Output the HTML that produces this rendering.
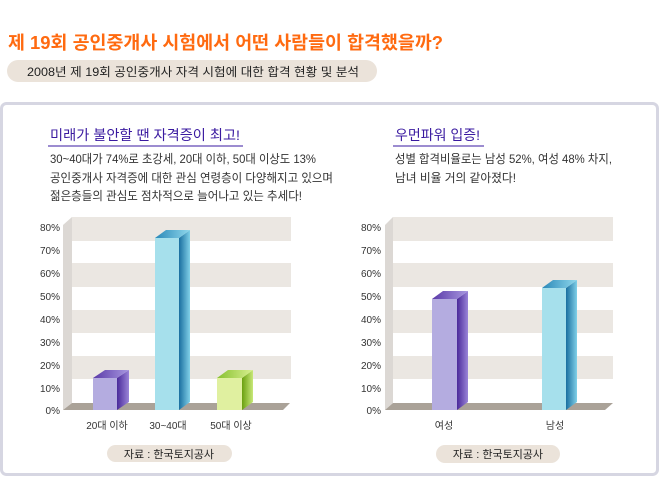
<!DOCTYPE html>
<html><head><meta charset="utf-8"><style>
body{margin:0;width:662px;height:484px;background:#fff;overflow:hidden;font-family:"Liberation Sans","Noto Sans CJK KR",sans-serif}
svg{position:absolute;left:0;top:0}
text{font-family:"Liberation Sans","Noto Sans CJK KR",sans-serif}
</style></head><body>
<svg width="662" height="484" viewBox="0 0 662 484">
<defs>
<linearGradient id="pS" x1="0" x2="1"><stop offset="0" stop-color="#4a2a9a"/><stop offset="1" stop-color="#9a84d8"/></linearGradient>
<linearGradient id="bS" x1="0" x2="1"><stop offset="0" stop-color="#1a6fa0"/><stop offset="1" stop-color="#80d0e8"/></linearGradient>
<linearGradient id="gS" x1="0" x2="1"><stop offset="0" stop-color="#6aa010"/><stop offset="1" stop-color="#c8e878"/></linearGradient>
<linearGradient id="pT" x1="0" x2="1"><stop offset="0" stop-color="#5a3aa8"/><stop offset="1" stop-color="#a898e0"/></linearGradient>
<linearGradient id="bT" x1="0" x2="1"><stop offset="0" stop-color="#2a88b8"/><stop offset="1" stop-color="#90d8ec"/></linearGradient>
<linearGradient id="gT" x1="0" x2="1"><stop offset="0" stop-color="#88c030"/><stop offset="1" stop-color="#d8f090"/></linearGradient>
</defs>
<text x="8" y="49" font-size="18" fill="#ff6a10" font-weight="bold" textLength="435" lengthAdjust="spacingAndGlyphs">제 19회 공인중개사 시험에서 어떤 사람들이 합격했을까?</text>
<rect x="7" y="60" width="370" height="22" rx="11" fill="#ebe3da"/>
<text x="27" y="76" font-size="12" fill="#222" textLength="332" lengthAdjust="spacingAndGlyphs">2008년 제 19회 공인중개사 자격 시험에 대한 합격 현황 및 분석</text>
<rect x="1.5" y="103.5" width="656" height="371" rx="5" fill="#fff" stroke="#d6d6e2" stroke-width="3"/>
<text x="50" y="140" font-size="14" fill="#3a1aa0" textLength="190" lengthAdjust="spacingAndGlyphs">미래가 불안할 땐 자격증이 최고!</text>
<line x1="48" y1="146" x2="243" y2="146" stroke="#3a1aa0" stroke-width="1"/>
<g font-size="12" fill="#333">
<text x="50" y="163" textLength="266" lengthAdjust="spacingAndGlyphs">30~40대가 74%로 초강세, 20대 이하, 50대 이상도 13%</text>
<text x="50" y="182" textLength="283" lengthAdjust="spacingAndGlyphs">공인중개사 자격증에 대한 관심 연령층이 다양해지고 있으며</text>
<text x="50" y="200" textLength="252" lengthAdjust="spacingAndGlyphs">젊은층들의 관심도 점차적으로 늘어나고 있는 추세다!</text>
</g>
<text x="395" y="140" font-size="14" fill="#3a1aa0">우먼파워 입증!</text>
<line x1="393" y1="146" x2="484" y2="146" stroke="#3a1aa0" stroke-width="1"/>
<g font-size="12" fill="#333">
<text x="395" y="163" textLength="217" lengthAdjust="spacingAndGlyphs">성별 합격비율로는 남성 52%, 여성 48% 차지,</text>
<text x="395" y="182" textLength="121" lengthAdjust="spacingAndGlyphs">남녀 비율 거의 같아졌다!</text>
</g>
<!-- left chart -->
<g>
<polygon points="63,225 72,217 72,403 63,410" fill="#dcd8d4"/>
<rect x="72" y="217" width="219" height="24" fill="#ebe7e2"/>
<rect x="72" y="263" width="219" height="24" fill="#ebe7e2"/>
<rect x="72" y="310" width="219" height="23" fill="#ebe7e2"/>
<rect x="72" y="356" width="219" height="23" fill="#ebe7e2"/>
<polygon points="63,410 72,403 290,403 283,410" fill="#aaa298"/>
<g font-size="10" fill="#333" text-anchor="end">
<text x="60" y="231">80%</text><text x="60" y="254">70%</text><text x="60" y="277">60%</text><text x="60" y="300">50%</text><text x="60" y="323">40%</text><text x="60" y="346">30%</text><text x="60" y="369">20%</text><text x="60" y="392">10%</text><text x="60" y="414">0%</text>
</g>
<rect x="93" y="378" width="24" height="32" fill="#b4ace0"/><polygon points="117,378 129,370 129,402 117,410" fill="url(#pS)"/><polygon points="93,378 105,370 129,370 117,378" fill="url(#pT)"/>
<rect x="155" y="238" width="24" height="172" fill="#a6e0ec"/><polygon points="179,238 190,230 190,402 179,410" fill="url(#bS)"/><polygon points="155,238 166,230 190,230 179,238" fill="url(#bT)"/>
<rect x="217" y="378" width="25" height="32" fill="#e0f0a0"/><polygon points="242,378 253,370 253,402 242,410" fill="url(#gS)"/><polygon points="217,378 228,370 253,370 242,378" fill="url(#gT)"/>
<g font-size="10" fill="#333" text-anchor="middle"><text x="107" y="429">20대 이하</text><text x="168" y="429">30~40대</text><text x="231" y="429">50대 이상</text></g>
<rect x="107" y="445" width="125" height="17" rx="8.5" fill="#ebe3da"/>
<text x="169" y="458" font-size="11" fill="#222" text-anchor="middle">자료 : 한국토지공사</text>
</g>
<!-- right chart -->
<g>
<polygon points="385,225 393,217 393,403 385,410" fill="#dcd8d4"/>
<rect x="393" y="217" width="220" height="24" fill="#ebe7e2"/>
<rect x="393" y="263" width="220" height="24" fill="#ebe7e2"/>
<rect x="393" y="310" width="220" height="23" fill="#ebe7e2"/>
<rect x="393" y="356" width="220" height="23" fill="#ebe7e2"/>
<polygon points="385,410 393,403 613,403 605,410" fill="#aaa298"/>
<g font-size="10" fill="#333" text-anchor="end">
<text x="381" y="231">80%</text><text x="381" y="254">70%</text><text x="381" y="277">60%</text><text x="381" y="300">50%</text><text x="381" y="323">40%</text><text x="381" y="346">30%</text><text x="381" y="369">20%</text><text x="381" y="392">10%</text><text x="381" y="414">0%</text>
</g>
<rect x="432" y="299" width="25" height="111" fill="#b4ace0"/><polygon points="457,299 468,291 468,402 457,410" fill="url(#pS)"/><polygon points="432,299 443,291 468,291 457,299" fill="url(#pT)"/>
<rect x="542" y="288" width="24" height="122" fill="#a6e0ec"/><polygon points="566,288 577,280 577,402 566,410" fill="url(#bS)"/><polygon points="542,288 553,280 577,280 566,288" fill="url(#bT)"/>
<g font-size="10" fill="#333" text-anchor="middle"><text x="444" y="429">여성</text><text x="555" y="429">남성</text></g>
<rect x="436" y="445" width="124" height="18" rx="9" fill="#ebe3da"/>
<text x="498" y="458" font-size="11" fill="#222" text-anchor="middle">자료 : 한국토지공사</text>
</g>
</svg>
</body></html>
